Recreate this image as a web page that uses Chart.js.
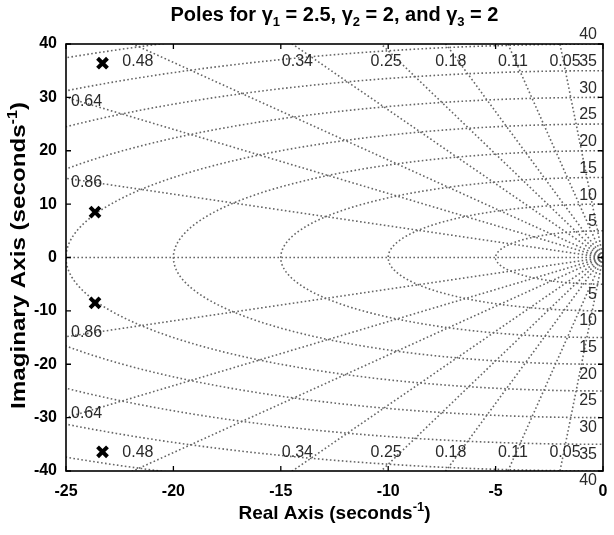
<!DOCTYPE html>
<html>
<head>
<meta charset="utf-8">
<script src="https://cdn.jsdelivr.net/npm/chart.js@4.4.0/dist/chart.umd.min.js"></script>
<style>
  html, body { margin: 0; padding: 0; background: #fff; }
  #wrap { width: 614px; height: 535px; }
</style>
</head>
<body>
<div id="wrap"><canvas id="pz"></canvas></div>
<script>
// ---------- data ----------
const poleRe = [-23.3, -23.65, -23.65, -23.3];
const poleIm = [36.4, 8.5, -8.5, -36.4];

const realTicks = [-25, -20, -15, -10, -5, 0];
const imagTicks = [-40, -30, -20, -10, 0, 10, 20, 30, 40];

// sgrid lines
const zetas = [0.05, 0.11, 0.18, 0.25, 0.34, 0.48, 0.64, 0.86];
const zetaLabels = ["0.05", "0.11", "0.18", "0.25", "0.34", "0.48", "0.64", "0.86"];
const wns = [5, 10, 15, 20, 25, 30, 35, 40, 45];
const wnLabels = ["5", "10", "15", "20", "25", "30", "35", "40"];

const FONT = "'Liberation Sans', Arial, Helvetica, sans-serif";
const GRID = "#666";

// ---------- sgrid plugin (damping rays + wn circles) ----------
const sgrid = {
  id: "sgrid",
  beforeDatasetsDraw(chart) {
    const { ctx, chartArea: a, scales: { x, y } } = chart;
    const px = v => x.getPixelForValue(v);
    const py = v => y.getPixelForValue(v);

    ctx.save();
    ctx.beginPath();
    ctx.rect(a.left, a.top, a.right - a.left, a.bottom - a.top);
    ctx.clip();
    ctx.strokeStyle = GRID;
    ctx.lineWidth = 1.6;
    ctx.setLineDash([1.6, 2.4]);

    // real axis (zeta = 1)
    ctx.beginPath();
    ctx.moveTo(px(0), py(0));
    ctx.lineTo(px(-100), py(0));
    ctx.stroke();

    // constant damping rays
    zetas.forEach(z => {
      const s = Math.sqrt(1 - z * z);
      [1, -1].forEach(sg => {
        ctx.beginPath();
        ctx.moveTo(px(0), py(0));
        ctx.lineTo(px(-200 * z), py(sg * 200 * s));
        ctx.stroke();
      });
    });

    // constant natural frequency circles
    wns.forEach(w => {
      ctx.beginPath();
      for (let i = 0; i <= 360; i++) {
        const t = Math.PI / 2 + Math.PI * i / 360;
        const X = px(w * Math.cos(t)), Y = py(w * Math.sin(t));
        if (i === 0) ctx.moveTo(X, Y); else ctx.lineTo(X, Y);
      }
      ctx.stroke();
    });
    ctx.restore();

    // labels
    ctx.save();
    ctx.fillStyle = "#2a2a2a";
    ctx.font = "16px " + FONT;
    zetas.forEach((z, i) => {
      const s = Math.sqrt(1 - z * z);
      const xTop = -40 * z / s;
      [1, -1].forEach(sg => {
        if (xTop > -25) {
          ctx.textAlign = "center";
          ctx.textBaseline = "middle";
          ctx.fillText(zetaLabels[i], px(xTop) + 5, py(sg * 40) + sg * 18);
        } else {
          const yl = 25 * s / z;
          ctx.textAlign = "left";
          ctx.textBaseline = "middle";
          ctx.fillText(zetaLabels[i], a.left + 5, py(sg * yl) + sg * 4);
        }
      });
    });
    ctx.textAlign = "right";
    wnLabels.forEach((lab, i) => {
      const w = wns[i];
      ctx.textBaseline = "bottom";
      ctx.fillText(lab, a.right - 6, py(w) - 1);
      ctx.textBaseline = "top";
      ctx.fillText(lab, a.right - 6, py(-w) + 2);
    });
    ctx.restore();
  },
  afterDatasetsDraw(chart) {
    const { ctx, chartArea: a, scales: { x, y } } = chart;
    ctx.save();
    ctx.strokeStyle = "#000";
    ctx.lineWidth = 1.6;
    ctx.strokeRect(a.left, a.top, a.right - a.left, a.bottom - a.top);
    ctx.lineWidth = 1.3;
    const tl = 5;
    ctx.beginPath();
    realTicks.forEach(v => {
      const X = x.getPixelForValue(v);
      ctx.moveTo(X, a.bottom); ctx.lineTo(X, a.bottom - tl);
      ctx.moveTo(X, a.top); ctx.lineTo(X, a.top + tl);
    });
    imagTicks.forEach(v => {
      const Y = y.getPixelForValue(v);
      ctx.moveTo(a.left, Y); ctx.lineTo(a.left + tl, Y);
      ctx.moveTo(a.right, Y); ctx.lineTo(a.right - tl, Y);
    });
    ctx.stroke();
    ctx.restore();
  },
  afterDraw(chart) {
    const { ctx, chartArea: a } = chart;
    const cx = (a.left + a.right) / 2;
    drawRich(ctx, [
      ["Poles for ", 0], ["\u03b3", 0], ["1", 1], [" = 2.5, ", 0],
      ["\u03b3", 0], ["2", 1], [" = 2, and ", 0], ["\u03b3", 0], ["3", 1], [" = 2", 0]
    ], cx, 21, "bold 20px " + FONT, "bold 13px " + FONT);
    drawRich(ctx, [["Real Axis (seconds", 0], ["-1", -1], [")", 0]], cx, 519,
      "bold 19px " + FONT, "bold 13px " + FONT);
    ctx.save();
    ctx.translate(25, (a.top + a.bottom) / 2 - 2);
    ctx.rotate(-Math.PI / 2);
    ctx.scale(1.15, 1);
    drawRich(ctx, [["Imaginary Axis (seconds", 0], ["-1", -1], [")", 0]], 0, 0,
      "bold 21px " + FONT, "bold 14px " + FONT);
    ctx.restore();
  }
};

// segments: [text, 0 normal | 1 subscript | -1 superscript]
function drawRich(ctx, segs, cx, base, big, small) {
  ctx.save();
  ctx.fillStyle = "#000";
  ctx.textAlign = "left";
  ctx.textBaseline = "alphabetic";
  let total = 0;
  const widths = segs.map(([t, k]) => {
    ctx.font = k ? small : big;
    const w = ctx.measureText(t).width;
    total += w;
    return w;
  });
  let X = cx - total / 2;
  segs.forEach(([t, k], i) => {
    ctx.font = k ? small : big;
    const dy = k === 1 ? 5 : (k === -1 ? -8 : 0);
    ctx.fillText(t, X, base + dy);
    X += widths[i];
  });
  ctx.restore();
}

// ---------- chart ----------
new Chart(document.getElementById("pz"), {
  type: "scatter",
  data: {
    datasets: [{
      data: poleRe.map((r, i) => ({ x: r, y: poleIm[i] })),
      pointStyle: "crossRot",
      radius: 7,
      borderWidth: 4,
      borderColor: "#000",
      backgroundColor: "#000"
    }]
  },
  options: {
    responsive: true,
    maintainAspectRatio: false,
    animation: false,
    events: [],
    layout: { padding: { left: 0, right: 4, top: 44, bottom: 0 } },
    plugins: { legend: { display: false }, tooltip: { enabled: false }, title: { display: false } },
    scales: {
      x: {
        type: "linear", min: -25, max: 0,
        afterBuildTicks: s => { s.ticks = realTicks.map(v => ({ value: v })); },
        ticks: { color: "#000", font: { family: FONT, size: 16, weight: "bold" }, padding: 3 },
        grid: { display: false },
        border: { display: false },
        afterFit: s => { s.height = 64; s.paddingLeft = 0; s.paddingRight = 0; }
      },
      y: {
        type: "linear", min: -40, max: 40,
        afterBuildTicks: s => { s.ticks = imagTicks.map(v => ({ value: v })); },
        ticks: { color: "#000", font: { family: FONT, size: 16, weight: "bold" }, padding: 1 },
        grid: { display: false },
        border: { display: false },
        afterFit: s => { s.width = 66; }
      }
    }
  },
  plugins: [sgrid]
});
</script>
</body>
</html>
